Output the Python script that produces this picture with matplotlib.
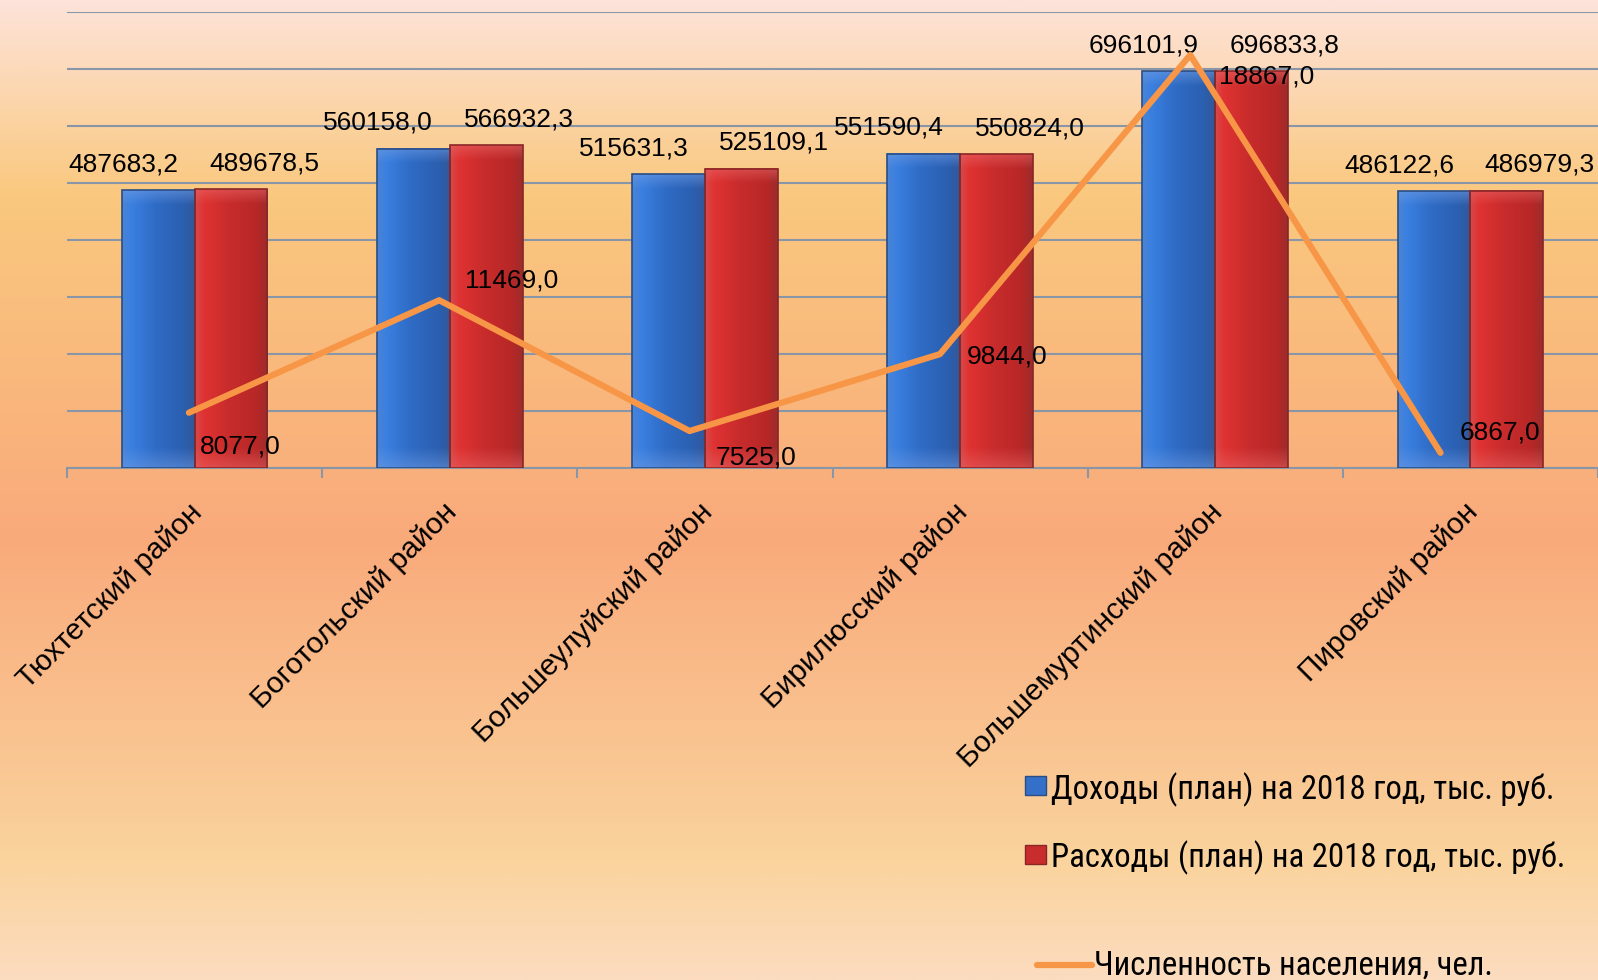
import numpy as np
import matplotlib
matplotlib.use("Agg")
import matplotlib.pyplot as plt
from matplotlib import font_manager
from matplotlib.colors import LinearSegmentedColormap, to_rgb
from matplotlib.patches import Rectangle
from matplotlib.lines import Line2D
from matplotlib.transforms import offset_copy

# data
districts = ["Тюхтетский район", "Боготольский район", "Большеулуйский район",
             "Бирилюсский район", "Большемуртинский район", "Пировский район"]
income = [487683.2, 560158.0, 515631.3, 551590.4, 696101.9, 486122.6]
expenses = [489678.5, 566932.3, 525109.1, 550824.0, 696833.8, 486979.3]
population = [8077.0, 11469.0, 7525.0, 9844.0, 18867.0, 6867.0]
series_names = ["Доходы (план) на 2018 год, тыс. руб.",
                "Расходы (план) на 2018 год, тыс. руб.",
                "Численность населения, чел."]

# label offsets (pixels) for the population labels
pop_label_offsets = [(51, -34), (72, 20), (66, -26), (67, -2), (76, -22), (59, 20)]

W, H = 1598, 980
BASE_FONT = "Liberation Sans"

# pick a narrow font for the legend if one is installed
fonts = font_manager.fontManager.ttflist
names = {f.name for f in fonts}
legend_family = None
for cand in ["Liberation Sans Narrow", "Roboto Condensed", "Open Sans Condensed",
             "DejaVu Sans Condensed", "Noto Sans Condensed"]:
    if cand in names:
        legend_family = cand
        break
if legend_family is None:
    narrow = sorted(n for n in names if ("Narrow" in n or "Condensed" in n))
    legend_family = narrow[0] if narrow else "Roboto"
legend_font = dict(family=[legend_family, "DejaVu Sans"])


def fmt(v):
    return f"{v:.1f}".replace(".", ",")


fig = plt.figure(figsize=(W / 100, H / 100), dpi=100)

# background gradient
bg = fig.add_axes([0, 0, 1, 1], zorder=-10)
bg_cmap = LinearSegmentedColormap.from_list(
    "bg", [(0.0, "#fde3da"), (0.2, "#fac87e"), (0.55, "#f9aa7b"),
           (0.88, "#fad39d"), (1.0, "#fcdcbf")])
bg.imshow(np.linspace(0, 1, 512).reshape(-1, 1), cmap=bg_cmap, aspect="auto",
          extent=[0, 1, 0, 1], origin="upper")
bg.set_xlim(0, 1)
bg.set_ylim(0, 1)
bg.axis("off")

left, top, bottom = 67, 12.3, 468
ax = fig.add_axes([left / W, 1 - bottom / H, 1 - left / W, (bottom - top) / H])
ax.set_facecolor("none")

x = np.arange(len(districts))
w = 0.2857
ymax = 800000
px_per_unit = (bottom - top) / ymax


def bar_image(profile, light, hp, nx=60, ny=200):
    cm = LinearSegmentedColormap.from_list("p", profile)
    row = cm(np.linspace(0, 1, nx))[:, :3]
    t = np.linspace(0, hp, ny)[:, None]
    wt = np.clip(1 - t / 14, 0, 1) * 0.55 + np.clip(1 - (hp - t) / 20, 0, 1) * 0.5
    wt = wt[:, :, None]
    img = row[None, :, :] * (1 - wt) + np.array(to_rgb(light))[None, None, :] * wt
    return img


blue_profile = [(0, "#4a84d6"), (0.12, "#3a80e0"), (0.45, "#2f6cc6"),
                (0.85, "#2b5fb0"), (1, "#33589a")]
red_profile = [(0, "#d84848"), (0.12, "#e03232"), (0.45, "#c92c2c"),
               (0.85, "#b82727"), (1, "#9e2c2c")]

blue_bars = ax.bar(x - w / 2, income, w, facecolor="none", edgecolor="#2a4d84",
                   linewidth=1.2, zorder=4)
red_bars = ax.bar(x + w / 2, expenses, w, facecolor="none", edgecolor="#8a2626",
                  linewidth=1.2, zorder=4)

for bars, prof, light in [(blue_bars, blue_profile, "#6e9be4"),
                          (red_bars, red_profile, "#e86464")]:
    for p in bars:
        x0, h = p.get_x(), p.get_height()
        ax.imshow(bar_image(prof, light, h * px_per_unit),
                  extent=[x0, x0 + p.get_width(), 0, h], aspect="auto",
                  zorder=3, interpolation="bilinear")

for bars, dx in [(blue_bars, -35), (red_bars, 33)]:
    for p in bars:
        ax.annotate(fmt(p.get_height()), xy=(p.get_x() + p.get_width() / 2, p.get_height()),
                    xytext=(dx, 26), textcoords="offset pixels", ha="center", va="center",
                    fontsize=19, family=BASE_FONT, color="black", zorder=6)

ax.set_xlim(-0.5, len(districts) - 0.5)
ax.set_ylim(0, ymax)
ax.set_yticks(np.arange(0, ymax + 1, 100000))
ax.yaxis.grid(True, color="#8896a8", linewidth=1.5)
ax.set_axisbelow(True)
ax.tick_params(axis="y", length=0, labelleft=False)
for s in ["left", "right", "top"]:
    ax.spines[s].set_visible(False)
ax.spines["bottom"].set_color("#8896a8")
ax.spines["bottom"].set_linewidth(1.5)
ax.set_xticks(np.arange(-0.5, len(districts), 1.0))
ax.tick_params(axis="x", length=7, width=1.5, color="#8896a8", labelbottom=False)

label_tr = offset_copy(ax.get_xaxis_transform(), fig=fig, x=3, y=-40, units="dots")
for i, name in enumerate(districts):
    ax.text(i, 0, name, transform=label_tr, rotation=45, rotation_mode="anchor",
            ha="right", va="center", fontsize=21.5, family=BASE_FONT)

# population line on its own axes
ax2 = fig.add_axes(ax.get_position().bounds, zorder=1)
ax2.set_facecolor("none")
ax2.plot(x, population, color="#f79646", linewidth=4.5, solid_capstyle="round",
         solid_joinstyle="round")
for xi, v, (dx, dy) in zip(x, population, pop_label_offsets):
    ax2.annotate(fmt(v), xy=(xi, v), xytext=(dx, dy), textcoords="offset pixels",
                 ha="center", va="center", fontsize=19, family=BASE_FONT)
ax2.set_xlim(-0.487, 5.629)
ax2.set_ylim(6409, 20155)
ax2.axis("off")

# legend
lg = fig.add_axes([0, 0, 1, 1], zorder=2)
lg.set_xlim(0, W)
lg.set_ylim(H, 0)
lg.axis("off")
lg.add_patch(Rectangle((1024.5, 776), 21, 19, facecolor="#3470c8", edgecolor="#2a4d84", lw=1))
lg.add_patch(Rectangle((1024.5, 845), 21, 19, facecolor="#c92c2c", edgecolor="#8a2626", lw=1))
lg.add_line(Line2D([1037, 1092], [965, 965], color="#f79646", linewidth=4.5,
                   solid_capstyle="round"))
legend_texts = []
for (tx, ty), name in zip([(1051, 790), (1051, 858), (1094, 966)], series_names):
    legend_texts.append(lg.text(tx, ty, name, ha="left", va="center", fontsize=24.5,
                                **legend_font))

# shrink legend font so the first entry is as wide as in the original (about 504 px)
renderer = fig.canvas.get_renderer()
width0 = legend_texts[0].get_window_extent(renderer).width
size = min(24.5, 24.5 * 504 / width0)
for t in legend_texts:
    t.set_fontsize(size)

fig.savefig("out.png", dpi=100)
